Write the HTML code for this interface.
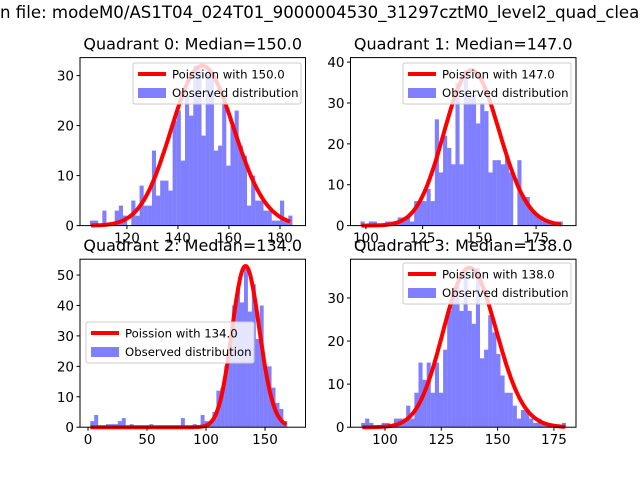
<!DOCTYPE html>
<html><head><meta charset="utf-8"><style>body{margin:0;background:#fff}svg{display:block;font-family:"DejaVu Sans","Liberation Sans",sans-serif}</style></head>
<body>
<svg id="fig" width="640" height="480" viewBox="0 0 640 480">
<rect width="640" height="480" fill="#fff"/>
<text x="0" y="18" font-size="16.6" fill="#000">n file: modeM0/AS1T04_024T01_9000004530_31297cztM0_level2_quad_clean.evt</text>
</svg>
<script>
const q0Counts=[1,1,0,3,0,0,3,4,2,0,5,2,8,4,4,15,6,9,9,7,21,23,13,26,22,32,32,18,31,30,15,16,26,12,20,23,16,14,4,10,5,5,3,3,1,1,5,1,2];
const q1Counts=[1,0,1,1,0,0,1,1,1,2,2,2,1,6,6,6,9,6,26,13,22,19,15,35,15,38,32,32,25,30,28,13,16,16,15,17,13,0,16,7,7,4,3,2,1,1,1,1,1];
const q2Counts=[2,4,0,0,1,1,1,2,3,0,1,0,0,0,0,1,0,0,0,0,0,0,0,3,0,0,1,0,4,2,2,5,12,13,20,27,40,46,41,52,38,47,29,40,20,20,13,8,6,2];
const q3Counts=[1,2,1,0,0,1,1,0,2,2,2,5,2,8,15,11,15,8,15,8,18,27,30,33,27,37,27,24,37,16,18,26,22,17,12,8,8,5,2,4,4,2,1,2,1,1,0,0,0,1];
const medians=[150,147,134,138];
const poissonScale=[982,1155,1537,1090];
const binStart=[105.5,97.6,1.9,89.4];
const binWidth=[1.62,1.82,3.34,1.82];
const xTicks=[[120,140,160,180],[100,125,150,175],[0,50,100,150],[100,125,150,175]];
const yTicks=[[0,10,20,30],[0,10,20,30,40],[0,10,20,30,40,50],[0,10,20,30]];
const xLims=[[101.6,190],[93.2,192.6],[-6.8,184.3],[84.7,184.8]];
const yMax=[33.6,41.1,55.2,39];

const svg=document.getElementById('fig');const NS='http://www.w3.org/2000/svg';
function mk(t,a,p){const e=document.createElementNS(NS,t);for(const k in a)e.setAttribute(k,a[k]);(p||svg).appendChild(e);return e;}
function lpois(k,l){let s=0;for(let i=2;i<=k;i++)s+=Math.log(i);return k*Math.log(l)-l-s;}
const boxes=[[80,57.6],[350.5,57.6],[80,259.2],[350.5,259.2]];
const W=225.5,H=168;
const legPos=[[133,63],[403,63],[86,322],[403,263]];
const allCounts=[q0Counts,q1Counts,q2Counts,q3Counts];
for(let q=0;q<4;q++){
  const [X0,Y0]=boxes[q];const xl=xLims[q];
  const g=mk('g',{});
  
  
  const sx=v=>X0+(v-xl[0])/(xl[1]-xl[0])*W;
  const sy=v=>Y0+H-v/yMax[q]*H;
  const c=allCounts[q];
  for(let i=0;i<c.length;i++){
    if(!c[i])continue;
    const a=binStart[q]+i*binWidth[q];
    const r=mk('rect',{x:sx(a),y:sy(c[i]),width:sx(a+binWidth[q])-sx(a),height:sy(0)-sy(c[i]),fill:'#0000ff','fill-opacity':0.5},g);
    
    
  }
  let pts=[];const lo=Math.ceil(binStart[q]),hi=Math.floor(binStart[q]+c.length*binWidth[q]);
  for(let k=lo;k<=hi;k++){pts.push(sx(k).toFixed(1)+','+sy(poissonScale[q]*Math.exp(lpois(k,medians[q]))).toFixed(1));}
  const pl=mk('polyline',{points:pts.join(' '),fill:'none',stroke:'#ff0000','stroke-width':4,'stroke-linejoin':'round'},g);
  
  
  const fr=mk('rect',{x:X0,y:Y0,width:W,height:H,fill:'none',stroke:'#000','stroke-width':1},g);
  
  
  xTicks[q].forEach(t=>{const x=sx(t);mk('line',{x1:x,x2:x,y1:Y0+H,y2:Y0+H+3.5,stroke:'#000'},g);
    const tx=mk('text',{x:x,y:Y0+H+17,'font-size':13.5,'text-anchor':'middle'},g);tx.textContent=t;
    
    });
  yTicks[q].forEach(t=>{const y=sy(t);mk('line',{x1:X0-3.5,x2:X0,y1:y,y2:y,stroke:'#000'},g);
    const tx=mk('text',{x:X0-6,y:y+5,'font-size':13.5,'text-anchor':'end'},g);tx.textContent=t;
    
    });
  const ti=mk('text',{x:X0+W/2,y:Y0-8,'font-size':16,'text-anchor':'middle'},g);ti.textContent='Quadrant '+q+': Median='+medians[q].toFixed(1);
  
  
  const [lx,ly]=legPos[q];
  const lg=mk('g',{},g);
  
  
  mk('rect',{x:lx,y:ly,width:168,height:41,rx:2,fill:'#fff','fill-opacity':0.8,stroke:'#ccc'},lg);
  mk('line',{x1:lx+5,x2:lx+33,y1:ly+11,y2:ly+11,stroke:'#ff0000','stroke-width':4},lg);
  const t1=mk('text',{x:lx+39,y:ly+15.5,'font-size':11.7},lg);t1.textContent='Poission with '+medians[q].toFixed(1);
  mk('rect',{x:lx+5,y:ly+25,width:28,height:10,fill:'#0000ff','fill-opacity':0.5},lg);
  const t2=mk('text',{x:lx+39,y:ly+34,'font-size':11.7},lg);t2.textContent='Observed distribution';
}
</script>
</body></html>
